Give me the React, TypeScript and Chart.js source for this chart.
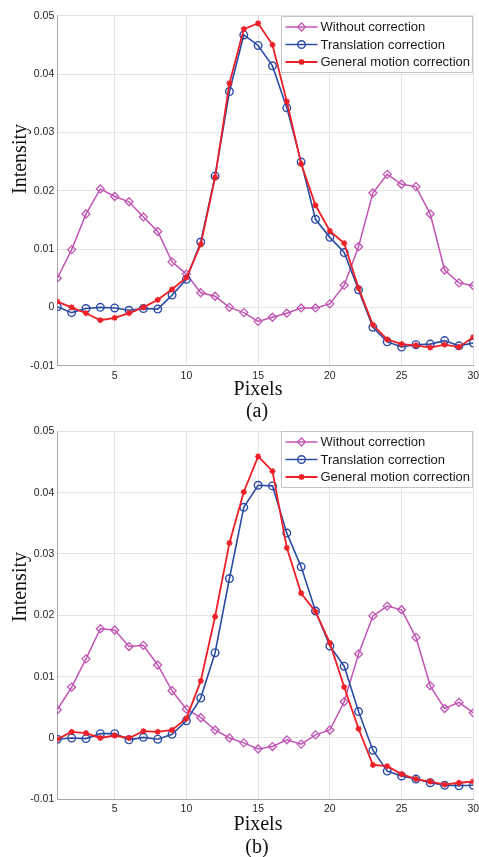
import React, { useEffect, useRef } from "react";
import { Chart, registerables } from "chart.js";

Chart.register(...registerables);

// ---------- data ----------
const pixels = [1, 2, 3, 4, 5, 6, 7, 8, 9, 10, 11, 12, 13, 14, 15, 16, 17, 18, 19, 20, 21, 22, 23, 24, 25, 26, 27, 28, 29, 30];
const xTickValues = [5, 10, 15, 20, 25, 30];
const yTickValues = [-0.01, 0, 0.01, 0.02, 0.03, 0.04, 0.05];
const seriesNames = ["Without correction", "Translation correction", "General motion correction"];

// panel (a)
const withoutA = [0.005, 0.0099, 0.016, 0.0203, 0.019, 0.0181, 0.0155, 0.013, 0.0078, 0.0057, 0.0025, 0.0019, 0.0, -0.0009, -0.0024, -0.0017, -0.001, -0.0001, -0.0001, 0.0006, 0.0038, 0.0104, 0.0196, 0.0228, 0.0211, 0.0207, 0.016, 0.0064, 0.0042, 0.0037];
const translationA = [0.0001, -0.0009, -0.0002, 0.0, -0.0001, -0.0005, -0.0002, -0.0003, 0.0021, 0.0048, 0.0112, 0.0225, 0.037, 0.0467, 0.0449, 0.0414, 0.0342, 0.0249, 0.0151, 0.012, 0.0094, 0.003, -0.0034, -0.0059, -0.0068, -0.0064, -0.0063, -0.0057, -0.0066, -0.0061];
const generalA = [0.001, 0.0, -0.001, -0.0022, -0.0018, -0.001, 0.0, 0.0013, 0.0031, 0.0051, 0.0108, 0.0223, 0.0384, 0.0477, 0.0487, 0.045, 0.0353, 0.0246, 0.0175, 0.0131, 0.011, 0.0033, -0.003, -0.0055, -0.0063, -0.0065, -0.0069, -0.0064, -0.0068, -0.0051];

// panel (b)
const withoutB = [0.0046, 0.0083, 0.0129, 0.0178, 0.0176, 0.0149, 0.0151, 0.0119, 0.0077, 0.0047, 0.0033, 0.0013, 0.0, -0.0008, -0.0018, -0.0014, -0.0003, -0.001, 0.0005, 0.0013, 0.0059, 0.0137, 0.0199, 0.0215, 0.0209, 0.0164, 0.0085, 0.0048, 0.0058, 0.0041];
const translationB = [-0.0002, 0.0, -0.0001, 0.0007, 0.0007, -0.0003, 0.0001, -0.0002, 0.0006, 0.0028, 0.0065, 0.0139, 0.026, 0.0376, 0.0412, 0.0411, 0.0334, 0.0279, 0.0207, 0.015, 0.0117, 0.0043, -0.002, -0.0054, -0.0062, -0.0067, -0.0073, -0.0077, -0.0078, -0.0077];
const generalB = [-0.0002, 0.001, 0.0008, 0.0, 0.0004, 0.0, 0.0011, 0.001, 0.0013, 0.0032, 0.0093, 0.0198, 0.0318, 0.0401, 0.0459, 0.0435, 0.031, 0.0236, 0.0206, 0.0155, 0.0083, 0.0015, -0.0044, -0.0046, -0.0059, -0.0067, -0.0071, -0.0076, -0.0073, -0.0071];

// ---------- styles ----------
const MAGENTA = "#c055b4";
const BLUE = "#2d4ca4";
const RED = "#ee1f26";
const SANS = "'Liberation Sans', Arial, Helvetica, sans-serif";
const SERIF = "'Liberation Serif', 'Times New Roman', serif";

function drawMarker(ctx: CanvasRenderingContext2D, style: string, r: number, x: number, y: number) {
  ctx.beginPath();
  if (style === "rectRot") {
    ctx.moveTo(x, y - r);
    ctx.lineTo(x + r, y);
    ctx.lineTo(x, y + r);
    ctx.lineTo(x - r, y);
    ctx.closePath();
    ctx.stroke();
  } else if (style === "circle") {
    ctx.arc(x, y, r, 0, Math.PI * 2);
    ctx.stroke();
  } else {
    ctx.moveTo(x - r, y);
    ctx.lineTo(x + r, y);
    ctx.moveTo(x, y - r);
    ctx.lineTo(x, y + r);
    const d = r * Math.SQRT1_2;
    ctx.moveTo(x - d, y - d);
    ctx.lineTo(x + d, y + d);
    ctx.moveTo(x - d, y + d);
    ctx.lineTo(x + d, y - d);
    ctx.stroke();
  }
}

const insideLegend = {
  id: "insideLegend",
  afterDraw(chart: any) {
    const { ctx, chartArea } = chart;
    const w = 191;
    const h = 56;
    const x0 = Math.round(chartArea.right - 1 - w) + 0.5;
    const y0 = Math.round(chartArea.top) + 0.5;
    ctx.save();
    ctx.fillStyle = "#ffffff";
    ctx.fillRect(x0, y0, w, h);
    ctx.strokeStyle = "#c4c4c4";
    ctx.lineWidth = 1;
    ctx.strokeRect(x0, y0, w, h);
    chart.data.datasets.forEach((ds: any, i: number) => {
      const cy = y0 + 10.5 + i * 17.5;
      ctx.strokeStyle = ds.borderColor;
      ctx.lineWidth = ds.borderWidth;
      ctx.beginPath();
      ctx.moveTo(x0 + 4, cy);
      ctx.lineTo(x0 + 36, cy);
      ctx.stroke();
      ctx.lineWidth = ds.pointBorderWidth;
      drawMarker(ctx, ds.pointStyle, ds.pointRadius, x0 + 20, cy);
      ctx.fillStyle = "#1a1a1a";
      ctx.font = `13px ${SANS}`;
      ctx.textBaseline = "middle";
      ctx.textAlign = "left";
      ctx.fillText(ds.label, x0 + 39, cy + 0.5);
    });
    ctx.restore();
  },
};

type PanelProps = {
  without: number[];
  translation: number[];
  general: number[];
  top: number;
  height: number;
  plotTop: number;
  plotBottom: number;
};

const CANVAS_W = 490;
const PLOT_LEFT = 57.3;
const PLOT_RIGHT = 473.3;

function Panel({ without, translation, general, top, height, plotTop, plotBottom }: PanelProps) {
  const ref = useRef<HTMLCanvasElement | null>(null);
  useEffect(() => {
    if (!ref.current) return;
    const axisH = top + height - plotBottom;
    const tickFont = { family: SANS, size: 10.5 };
    const chart = new Chart(ref.current, {
      type: "line",
      data: {
        datasets: [
          {
            label: seriesNames[0],
            data: pixels.map((p, i) => ({ x: p, y: without[i] })),
            borderColor: MAGENTA,
            borderWidth: 1.5,
            pointStyle: "rectRot",
            pointRadius: 4,
            pointBorderWidth: 1.3,
            pointBorderColor: MAGENTA,
            pointBackgroundColor: "rgba(0,0,0,0)",
            tension: 0,
            order: 2,
          },
          {
            label: seriesNames[1],
            data: pixels.map((p, i) => ({ x: p, y: translation[i] })),
            borderColor: BLUE,
            borderWidth: 1.6,
            pointStyle: "circle",
            pointRadius: 3.8,
            pointBorderWidth: 1.4,
            pointBorderColor: BLUE,
            pointBackgroundColor: "rgba(0,0,0,0)",
            tension: 0,
            order: 1,
          },
          {
            label: seriesNames[2],
            data: pixels.map((p, i) => ({ x: p, y: general[i] })),
            borderColor: RED,
            borderWidth: 1.8,
            pointStyle: "star",
            pointRadius: 3,
            pointBorderWidth: 1.5,
            pointBorderColor: RED,
            pointBackgroundColor: RED,
            tension: 0,
            order: 0,
          },
        ],
      },
      options: {
        animation: false,
        responsive: false,
        devicePixelRatio: 1,
        layout: {
          padding: { left: 0, top: plotTop - top, right: CANVAS_W - PLOT_RIGHT, bottom: 0 },
        },
        plugins: { legend: { display: false }, tooltip: { enabled: false } },
        scales: {
          x: {
            type: "linear",
            min: 1,
            max: 30,
            afterBuildTicks: (s: any) => {
              s.ticks = xTickValues.map((v) => ({ value: v }));
            },
            afterFit: (s: any) => {
              s.height = axisH;
            },
            grid: { color: "#e4e4e4", drawTicks: false, lineWidth: 1 },
            border: { color: "#a8a8a8", width: 1 },
            ticks: {
              padding: 4,
              autoSkip: false,
              maxRotation: 0,
              font: tickFont,
              color: "#262626",
              callback: (v: any) => String(v),
            },
          },
          y: {
            type: "linear",
            min: -0.01,
            max: 0.05,
            afterBuildTicks: (s: any) => {
              s.ticks = yTickValues.map((v) => ({ value: v }));
            },
            afterFit: (s: any) => {
              s.width = PLOT_LEFT;
            },
            grid: { color: "#e4e4e4", drawTicks: false, lineWidth: 1 },
            border: { color: "#a8a8a8", width: 1 },
            ticks: {
              padding: 3,
              autoSkip: false,
              font: tickFont,
              color: "#262626",
              callback: (v: any) => String(v),
            },
          },
        },
      },
      plugins: [insideLegend],
    } as any);
    return () => chart.destroy();
  }, [without, translation, general, top, height, plotTop, plotBottom]);

  return (
    <canvas
      ref={ref}
      width={CANVAS_W}
      height={height}
      style={{ position: "absolute", left: 0, top, width: CANVAS_W, height, display: "block" }}
    />
  );
}

function Label({ text, cx, cy, size = 20, rotate = false }: { text: string; cx: number; cy: number; size?: number; rotate?: boolean }) {
  return (
    <div
      style={{
        position: "absolute",
        left: cx,
        top: cy,
        transform: `translate(-50%, -50%)${rotate ? " rotate(-90deg)" : ""}`,
        fontFamily: SERIF,
        fontSize: size,
        lineHeight: `${size + 2}px`,
        color: "#111",
        whiteSpace: "nowrap",
      }}
    >
      {text}
    </div>
  );
}

export default function App() {
  return (
    <div
      style={{
        position: "fixed",
        left: 0,
        top: 0,
        width: 479,
        height: 857,
        overflow: "hidden",
        background: "#ffffff",
      }}
    >
      <Panel without={withoutA} translation={translationA} general={generalA} top={0} height={380} plotTop={15.7} plotBottom={365.7} />
      <Panel without={withoutB} translation={translationB} general={generalB} top={416} height={398} plotTop={431.3} plotBottom={799.3} />
      <Label text="Intensity" cx={19} cy={159} rotate />
      <Label text="Pixels" cx={258} cy={388} />
      <Label text="(a)" cx={257} cy={410} />
      <Label text="Intensity" cx={19} cy={587} rotate />
      <Label text="Pixels" cx={258} cy={823} />
      <Label text="(b)" cx={257} cy={846} />
    </div>
  );
}
